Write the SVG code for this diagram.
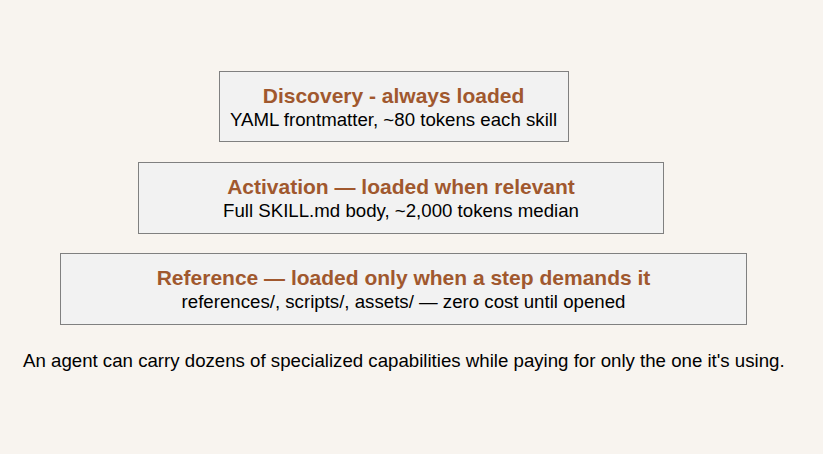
<svg xmlns="http://www.w3.org/2000/svg" width="823" height="454" viewBox="0 0 823 454">
<style>
.box{fill:#f2f2f2;stroke:#808080;stroke-width:1}
.t{font-family:"Liberation Sans",Arial,sans-serif;font-weight:bold;font-size:21px;fill:#a0582e;text-anchor:middle}
.s{font-family:"Liberation Sans",Arial,sans-serif;font-size:18.67px;fill:#000;text-anchor:middle}
.c{font-family:"Liberation Sans",Arial,sans-serif;font-size:18.67px;fill:#000}
</style>
<rect x="0" y="0" width="823" height="454" fill="#f8f4ef"/>
<g id="discovery">
<rect class="box" x="219.5" y="71.5" width="349" height="70"/>
<text class="t" x="393.5" y="103">Discovery - always loaded</text>
<text class="s" x="393.5" y="125.5">YAML frontmatter, ~80 tokens each skill</text>
</g>
<g id="activation">
<rect class="box" x="138.5" y="162.5" width="525" height="71"/>
<text class="t" x="401" y="194">Activation — loaded when relevant</text>
<text class="s" x="401" y="216.5">Full SKILL.md body, ~2,000 tokens median</text>
</g>
<g id="reference">
<rect class="box" x="60.5" y="253.5" width="686" height="71"/>
<text class="t" x="403.5" y="285">Reference — loaded only when a step demands it</text>
<text class="s" x="403.5" y="307.5">references/, scripts/, assets/ — zero cost until opened</text>
</g>
<g id="connectors"></g>
<text class="c" x="23" y="366.5">An agent can carry dozens of specialized capabilities while paying for only the one it's using.</text>
</svg>
